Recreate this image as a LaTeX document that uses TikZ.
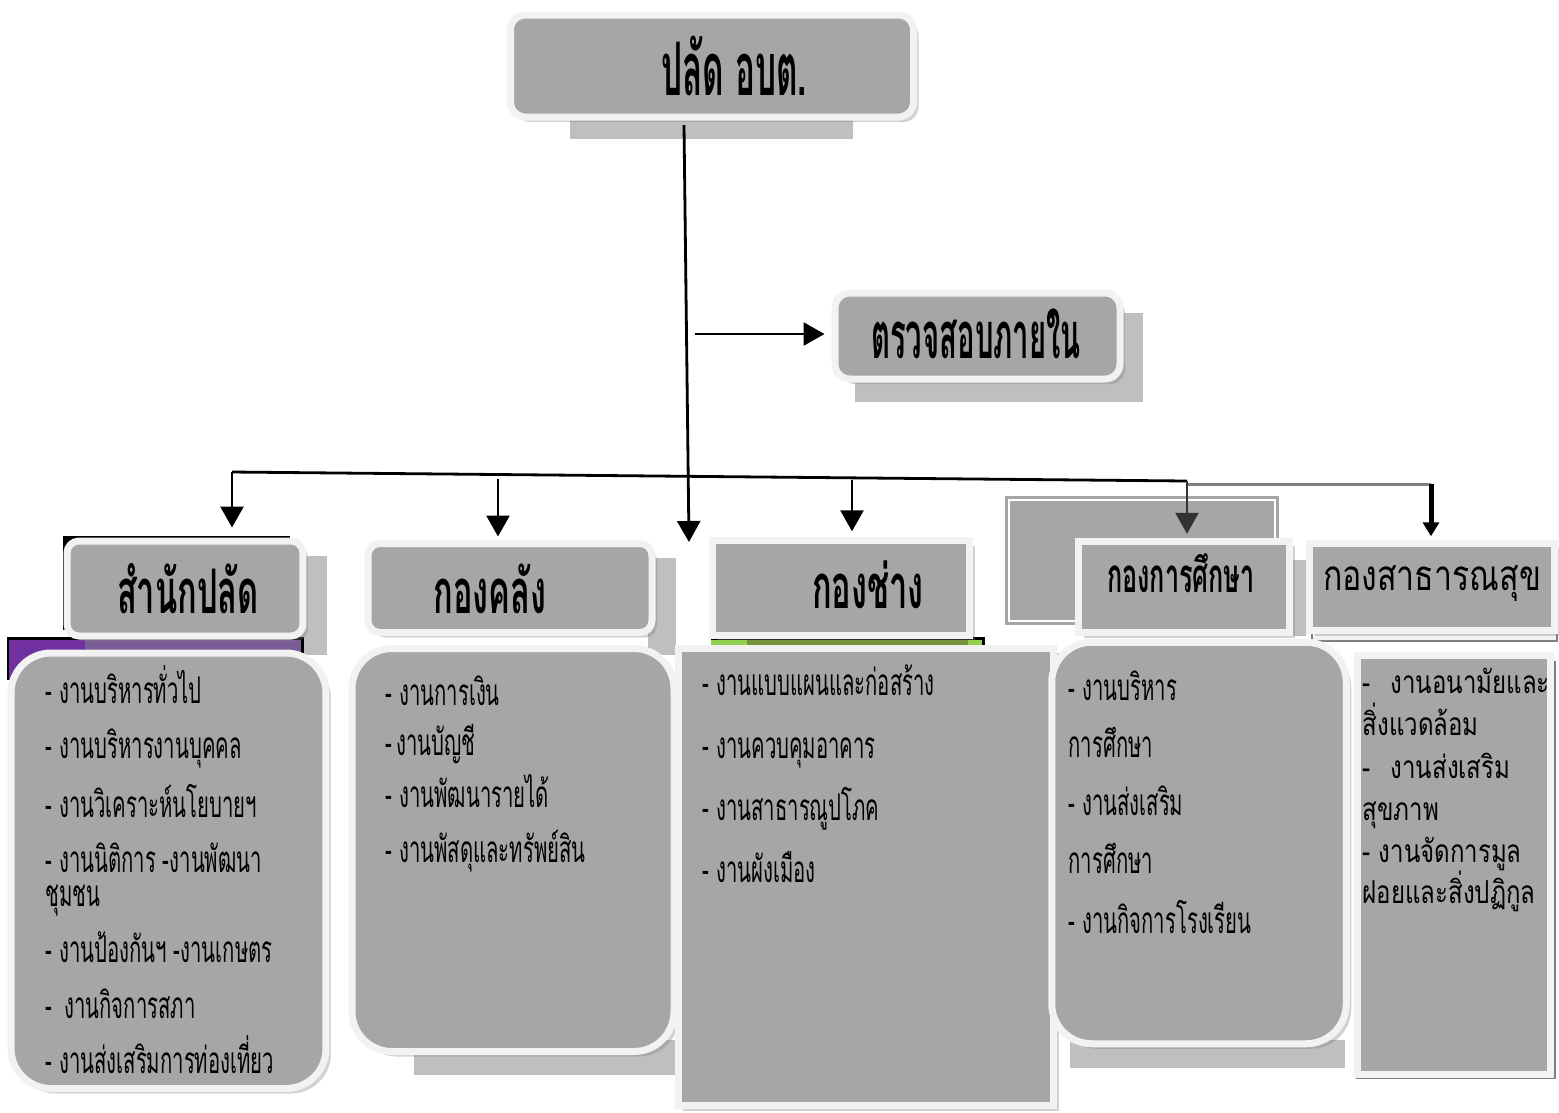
\documentclass[tikz,border=0pt]{standalone}
\usepackage{fontspec}
\usepackage{tikz}
\usetikzlibrary{arrows.meta,shadows}
\newfontfamily\thaifont[Script=Thai,FakeStretch=0.55]{Loma}
\newfontfamily\thaihead[Script=Thai,FakeStretch=0.53]{Loma}
\newfontfamily\thaititle[Script=Thai,FakeStretch=0.45]{Loma}
\newfontfamily\thaiplain[Script=Thai,FakeStretch=0.76]{Loma}
\definecolor{boxgray}{HTML}{A6A6A6}
\definecolor{rimwhite}{HTML}{F2F2F2}
\definecolor{shadegray}{HTML}{BFBFBF}
\definecolor{purpdark}{HTML}{7030A0}
\definecolor{purplite}{HTML}{7B5A98}
\definecolor{leafgreen}{HTML}{92D050}
\definecolor{leafdark}{HTML}{76923C}

\begin{document}
\begin{tikzpicture}[x=0.1mm,y=0.1mm]
\tikzstyle{every node}+=[inner sep=0pt]
\tikzstyle{box}=[draw=rimwhite, fill=boxgray, line width=0.7mm, drop shadow={shadow xshift=0.5mm, shadow yshift=-0.5mm, opacity=0.35}]
\tikzstyle{headtext}=[anchor=base, font=\thaihead\bfseries\fontsize{17.5}{17.5}\selectfont]
\tikzstyle{item}=[anchor=base west, font=\thaifont\fontsize{10.5}{10.5}\selectfont]
\tikzstyle{plainitem}=[anchor=base west, font=\thaiplain\fontsize{9}{9}\selectfont]
\tikzstyle{arr}=[line width=0.28mm, -{Triangle[length=2.1mm,width=2.3mm]}]
\useasboundingbox[fill=white] (0,0) rectangle (1559,-1112);
% shadows and backing shapes
\fill [shadegray] (570,-112) rectangle (853,-139);
\fill [shadegray] (855,-313) rectangle (1143,-402);
\fill [shadegray] (300,-556) rectangle (327,-655);
\fill [shadegray] (648,-558) rectangle (676,-655);
\fill [shadegray] (414,-1040) rectangle (676,-1075);
\fill [shadegray] (1070,-1040) rectangle (1345,-1068);
\fill [shadegray] (1285,-560) rectangle (1306,-636);
\draw [gray, fill=rimwhite] (1312,-562) rectangle (1557,-641);
\draw [gray] (1357,-662) rectangle (1555,-1078);
\fill [black] (63,-536) rectangle (290,-630);
\fill [purplite] (8,-638) rectangle (302,-680);
\fill [purpdark] (8,-638) rectangle (85,-680);
\draw [black, line width=0.3mm] (8,-680) -- (8,-638) -- (302,-638) -- (302,-680);
\fill [leafdark] (711,-638) rectangle (983,-650);
\fill [leafgreen] (711,-638) rectangle (747,-650);
\fill [leafgreen] (968,-638) rectangle (983,-650);
\draw [black, line width=0.3mm] (711,-638) -- (983,-638) -- (983,-650);
\fill [boxgray] (1005,-496) rectangle (1279,-625);
\draw [white, line width=0.15mm] (1009,-500) rectangle (1275,-621);
% top
\draw (712,-66) node[box, rounded corners=1.5mm, minimum width=40.3mm, minimum height=10.2mm] (top) {};
\draw (734,-95) node[headtext, font=\thaititle\bfseries\fontsize{21}{21}\selectfont] (top-t) {ปลัด อบต.};
\draw (977.5,-336) node[box, rounded corners=1.5mm, minimum width=28.5mm, minimum height=8.6mm] (audit) {};
\draw (976,-358) node[headtext, font=\thaititle\bfseries\fontsize{18.5}{18.5}\selectfont] (audit-t) {ตรวจสอบภายใน};
% heads
\draw (185,-588.5) node[box, rounded corners=1.2mm, minimum width=23.6mm, minimum height=9.5mm] (sp) {};
\draw (188,-613) node[headtext] (sp-t) {สำนักปลัด};
\draw (510,-588) node[box, rounded corners=1.2mm, minimum width=28.4mm, minimum height=8.9mm] (kl) {};
\draw (490,-613) node[headtext] (kl-t) {กองคลัง};
\draw (841,-588) node[box, minimum width=25.7mm, minimum height=9.45mm] (ch) {};
\draw (868,-608) node[headtext] (ch-t) {กองช่าง};
\draw (1184,-587) node[box, minimum width=21.1mm, minimum height=9.15mm] (ks) {};
\draw (1181,-592) node[headtext, font=\thaihead\bfseries\fontsize{13.5}{13.5}\selectfont] (ks-t) {กองการศึกษา};
\draw (1432,-587) node[box, minimum width=24.5mm, minimum height=8.75mm] (ss) {};
\draw (1432,-590) node[headtext, font=\thaiplain\fontsize{12}{12}\selectfont] (ss-t) {กองสาธารณสุข};
% lists
\draw (168.5,-870.75) node[box, rounded corners=4mm, minimum width=31.5mm, minimum height=43.55mm] (splist) {};
\draw (513,-850) node[box, rounded corners=4mm, minimum width=32.2mm, minimum height=40.3mm] (kllist) {};
\draw (866,-877) node[box, minimum width=37.55mm, minimum height=45.75mm] (chlist) {};
\draw (1199,-843) node[box, rounded corners=4mm, minimum width=29.45mm, minimum height=40.15mm] (kslist) {};
\draw (1454,-865) node[box, minimum width=19.35mm, minimum height=41.85mm] (sslist) {};
\foreach \y/\t [count=\i] in {703/{- งานบริหารทั่วไป}, 758/{- งานบริหารงานบุคคล}, 817/{- งานวิเคราะห์นโยบายฯ}, 872/{- งานนิติการ -งานพัฒนา}, 906/{ชุมชน}, 962/{- งานป้องกันฯ -งานเกษตร}, 1018/{-\hspace{1.2mm}งานกิจการสภา}, 1073/{- งานส่งเสริมการท่องเที่ยว}}
  \draw (45,-\y) node[item] (sp-\i) {\t};
\foreach \y/\t [count=\i] in {705/{- งานการเงิน}, 755/{-\hspace{0.4mm}งานบัญชี}, 807/{- งานพัฒนารายได้}, 862/{- งานพัสดุและทรัพย์สิน}}
  \draw (385,-\y) node[item] (kl-\i) {\t};
\foreach \y/\t [count=\i] in {695/{- งานแบบแผนและก่อสร้าง}, 758/{- งานควบคุมอาคาร}, 820/{- งานสาธารณูปโภค}, 882/{- งานผังเมือง}}
  \draw (702,-\y) node[item] (ch-\i) {\t};
\foreach \y/\t [count=\i] in {700/{- งานบริหาร}, 757/{การศึกษา}, 815/{- งานส่งเสริม}, 873/{การศึกษา}, 933/{- งานกิจการโรงเรียน}}
  \draw (1068,-\y) node[item] (ks-\i) {\t};
\foreach \y/\t [count=\i] in {693/{-\hspace{2mm}งานอนามัยและ}, 735/{สิ่งแวดล้อม}, 778/{-\hspace{2mm}งานส่งเสริม}, 820/{สุขภาพ}, 862/{- งานจัดการมูล}, 903/{ฝอยและสิ่งปฏิกูล}}
  \draw (1362,-\y) node[plainitem] (ss-\i) {\t};
% connectors
\coordinate (trunk) at (684,-125);
\coordinate (trunk-end) at (689,-542);
\draw [arr] (trunk) -- (trunk-end);
\coordinate (tap) at (695,-334);
\draw [arr, shorten >=0.7mm] (tap) -- (tap -| audit.west);
\coordinate (bus-l) at (232,-472);
\coordinate (bus-r) at (1187,-481);
\coordinate (bus-e) at (1431,-484);
\draw [line width=0.28mm] (bus-l) -- (bus-r);
\draw [line width=0.3mm, gray] (bus-r |- bus-e) -- (bus-e);
\draw [arr, shorten >=1mm] (bus-l) -- (bus-l |- sp.north);
\coordinate (kl-in) at (498,-479);
\draw [arr, shorten >=0.35mm] (kl-in) -- (kl-in |- kl.north);
\coordinate (ch-in) at (852,-480);
\draw [arr, shorten >=0.6mm] (ch-in) -- (ch-in |- ch.north);
\draw [arr, draw=black!80, fill=black!80, shorten >=0.4mm] (bus-r) -- (bus-r |- ks.north);
\draw [line width=0.5mm, -{Triangle[length=1.4mm,width=1.6mm]}, shorten >=0.35mm] (bus-e) -- (bus-e |- ss.north);
\end{tikzpicture}
\end{document}
